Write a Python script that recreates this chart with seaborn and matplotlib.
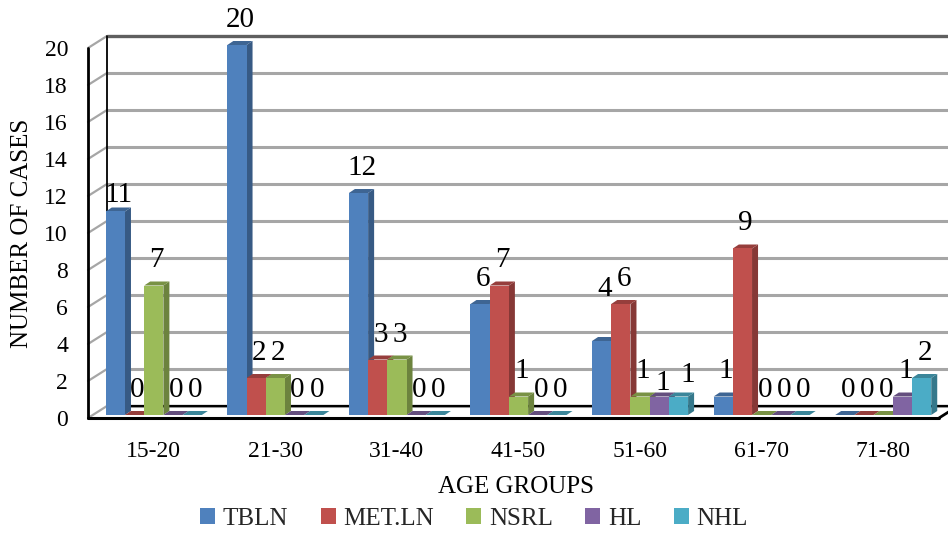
import numpy as np
import pandas as pd
import matplotlib
matplotlib.use("Agg")
import matplotlib.pyplot as plt
import matplotlib.colors as mcolors
import seaborn as sns
from matplotlib.patches import Polygon, Patch
from matplotlib.lines import Line2D
from matplotlib.transforms import ScaledTranslation, blended_transform_factory

# ---- data ----
age_groups = ["15-20", "21-30", "31-40", "41-50", "51-60", "61-70", "71-80"]
series = ["TBLN", "MET.LN", "NSRL", "HL", "NHL"]
tbln = [11, 20, 12, 6, 4, 1, 0]
met_ln = [0, 2, 3, 7, 6, 9, 0]
nsrl = [7, 2, 3, 1, 1, 0, 0]
hl = [0, 0, 0, 0, 1, 0, 1]
nhl = [0, 0, 0, 0, 1, 0, 2]
y_ticks = list(range(0, 21, 2))

colors = ["#4F81BD", "#C0504D", "#9BBB59", "#8064A2", "#4BACC6"]
values = [tbln, met_ln, nsrl, hl, nhl]

df = pd.DataFrame({
    "age": age_groups * len(series),
    "series": np.repeat(series, len(age_groups)),
    "cases": sum(values, []),
})

# ---- figure / style ----
DPI = 100
W, H = 948, 533
sns.set_theme(style="white")
plt.rcParams["font.family"] = ["Liberation Serif", "DejaVu Serif"]

fig = plt.figure(figsize=(W / DPI, H / DPI), dpi=DPI)
# axes placed in the plane of the bar fronts (pixel geometry, y from top)
ax_l, ax_r, ax_b, ax_t = 93, 944, 415, 45
ax = fig.add_axes([ax_l / W, 1 - ax_b / H, (ax_r - ax_l) / W, (ax_b - ax_t) / H])
ax.set_facecolor("none")

sns.barplot(data=df, x="age", y="cases", hue="series", hue_order=series,
            palette=colors, width=0.79, saturation=1, ax=ax,
            edgecolor="none", linewidth=0, legend=False, zorder=3)
ax.set_xlim(-0.5, 6.5)
ax.set_ylim(0, 20)
for s in ax.spines.values():
    s.set_visible(False)
ax.grid(False)

FRONT = (-5, 3)     # pixel shift of the front plane (dx right, dy down)
BACK = (14, -9)     # pixel shift of the back wall


def fig_pt(x, y, shift):
    """data point shifted by pixels -> figure fraction"""
    p = ax.transData.transform((x, y))
    return fig.transFigure.inverted().transform((p[0] + shift[0], p[1] - shift[1]))


def seg(p0, p1, z=1.5, **kw):
    ax.add_line(Line2D([p0[0], p1[0]], [p0[1], p1[1]], transform=fig.transFigure,
                       clip_on=False, zorder=z, **kw))


# back-wall gridlines
back_tr = blended_transform_factory(ax.transAxes, ax.transData) + \
    ScaledTranslation(BACK[0] / DPI, -BACK[1] / DPI, fig.dpi_scale_trans)
ax.hlines(y_ticks[:-1], 0, 1.2, transform=back_tr, color="#A6A6A6",
          lw=2.2, clip_on=False, zorder=1)
ax.hlines([y_ticks[-1]], 0, 1.2, transform=back_tr, color="#5F5F5F",
          lw=2.4, clip_on=False, zorder=1)

# left wall
for v in y_ticks:
    seg(fig_pt(-0.5, v, FRONT), fig_pt(-0.5, v, BACK), color="#A6A6A6", lw=1.6)
seg(fig_pt(-0.5, 0, BACK), fig_pt(-0.5, 20, BACK), color="black", lw=1.3)
seg(fig_pt(-0.5, 0, FRONT), fig_pt(-0.5, 20, FRONT), z=4, color="black", lw=2.0)

# floor
seg(fig_pt(-0.5, 0, BACK), fig_pt(6.5, 0, BACK), color="black", lw=1.6)
seg(fig_pt(-0.5, 0, FRONT), fig_pt(6.5, 0, FRONT), z=4, color="black", lw=2.2)
seg(fig_pt(6.5, 0, FRONT), fig_pt(6.5, 0, BACK), z=4, color="black", lw=2.0)

# 3-D side and top faces of every bar
DEPTH = (6, -4)
inv = ax.transData.inverted()
for i, cont in enumerate(ax.containers):
    base = np.array(mcolors.to_rgb(colors[i]))
    side_c = base * 0.70
    top_c = base * 0.78
    for bar in cont:
        x0 = bar.get_x()
        x1 = x0 + bar.get_width()
        h = bar.get_height()
        (dx0, dy0) = ax.transData.transform((x0, 0))
        (dx1, dy1) = ax.transData.transform((x1, h))
        ddx, ddy = DEPTH[0], -DEPTH[1]
        side = inv.transform([(dx1, dy0), (dx1, dy1), (dx1 + ddx, dy1 + ddy), (dx1 + ddx, dy0 + ddy)])
        top = inv.transform([(dx0, dy1), (dx1, dy1), (dx1 + ddx, dy1 + ddy), (dx0 + ddx, dy1 + ddy)])
        ax.add_patch(Polygon(side, closed=True, facecolor=side_c, edgecolor="none",
                             clip_on=False, zorder=2.9))
        ax.add_patch(Polygon(top, closed=True, facecolor=top_c, edgecolor="none",
                             clip_on=False, zorder=2.95))

# value labels
nudge = {(0, 0): (0, -9), (0, 4): (0, 27), (3, 4): (0, -12), (4, 4): (6, -4)}
for i, cont in enumerate(ax.containers):
    for j, bar in enumerate(cont):
        v = values[i][j]
        ndx, ndy = nudge.get((i, j), (0, 0))
        ax.annotate(str(v), (bar.get_x() + bar.get_width() / 2, v),
                    xytext=((3 + ndx) * 0.72, (25 + ndy) * 0.72),
                    textcoords="offset points", ha="center", va="center",
                    fontsize=21, color="black", annotation_clip=False, zorder=5)

# ticks
ax.set_yticks(y_ticks)
ax.set_yticklabels([str(t) for t in y_ticks])
ax.set_xticks(range(len(age_groups)))
ax.set_xticklabels(age_groups)
ax.tick_params(axis="both", length=0, labelsize=17, colors="black")
ax.tick_params(axis="y", pad=18)
ax.tick_params(axis="x", pad=19)
shift_down = ScaledTranslation(0, -3 / DPI, fig.dpi_scale_trans)
for t in ax.yaxis.get_major_ticks(len(y_ticks)):
    t.label1.set_transform(t.label1.get_transform() + shift_down)

# axis titles
ax.set_xlabel("AGE GROUPS", fontsize=18, color="black")
ax.xaxis.set_label_coords((516 - ax_l) / (ax_r - ax_l), -(487 - ax_b) / (ax_b - ax_t))
ax.xaxis.label.set_va("center")
ax.set_ylabel("NUMBER OF CASES", fontsize=18, color="black")
ax.yaxis.set_label_coords((22 - ax_l) / (ax_r - ax_l), (ax_b - 233) / (ax_b - ax_t))
ax.yaxis.label.set_va("center")

# legend
handles = [Patch(facecolor=c, edgecolor="none") for c in colors]
fig.legend(handles, series, loc="center", bbox_to_anchor=(474 / W, 1 - 519 / H),
           ncol=5, frameon=False, fontsize=18, handlelength=0.6, handleheight=0.6,
           handletextpad=0.3, columnspacing=1.3, borderaxespad=0)

fig.savefig("out.png", dpi=DPI)
